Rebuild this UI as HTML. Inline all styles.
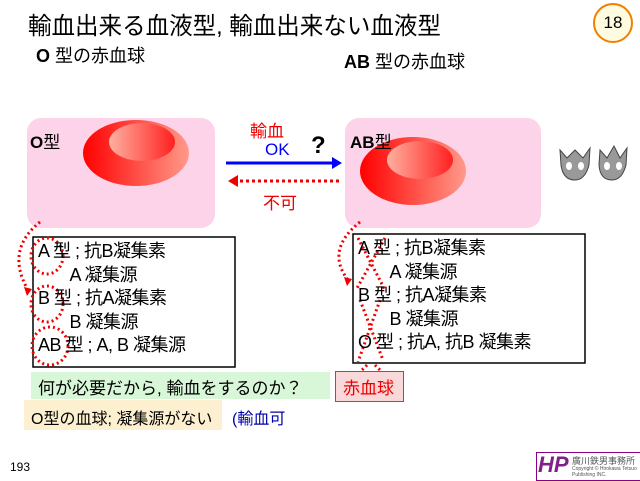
<!DOCTYPE html>
<html><head><meta charset="utf-8"><style>
body{margin:0;width:640px;height:480px;background:#fff;position:relative;overflow:hidden;font-family:"Liberation Sans","Noto Sans CJK JP",sans-serif;}
.a{position:absolute;white-space:nowrap;}
</style></head><body>
<div class="a" style="left:28px;top:6px;font-size:24px;color:#000;transform:scaleX(0.98);transform-origin:left">輸血出来る血液型, 輸血出来ない血液型</div>
<div class="a" style="left:593px;top:3px;width:36px;height:36px;border:2px solid #f08000;border-radius:50%;background:#fffbe0;text-align:center;line-height:36px;font-size:17px">18</div>
<div class="a" style="left:36px;top:42px;font-size:18px"><b>O</b> 型の赤血球</div>
<div class="a" style="left:344px;top:48px;font-size:18px"><b>AB</b> 型の赤血球</div>
<svg class="a" style="left:0;top:0" width="640" height="480">
<defs>
<linearGradient id="g1" x1="0" x2="1"><stop offset="0" stop-color="#ff0000"/><stop offset="1" stop-color="#ff9a8a"/></linearGradient>
<linearGradient id="g2" x1="0" x2="1"><stop offset="0" stop-color="#ffb0a0"/><stop offset="1" stop-color="#ff2020"/></linearGradient>
</defs>
<rect x="27" y="118" width="188" height="110" rx="14" fill="#fdd3ea"/>
<rect x="345" y="118" width="196" height="110" rx="14" fill="#fdd3ea"/>
<ellipse cx="136" cy="153" rx="53" ry="33" fill="url(#g1)"/>
<ellipse cx="142" cy="142" rx="33" ry="19" fill="url(#g2)"/>
<ellipse cx="413" cy="171" rx="53" ry="34" fill="url(#g1)"/>
<ellipse cx="420" cy="160" rx="33" ry="19" fill="url(#g2)"/>
<line x1="226" y1="163" x2="332" y2="163" stroke="#0000ff" stroke-width="3"/>
<polygon points="332,157 342,163 332,169" fill="#0000ff"/>
<line x1="240" y1="181" x2="340" y2="181" stroke="#e00" stroke-width="3" stroke-dasharray="3,3"/>
<polygon points="238,175 228,181 238,187" fill="#e00"/>
<rect x="33" y="237" width="202" height="130" fill="#fff" stroke="#000" stroke-width="1.5"/>
<rect x="353" y="234" width="232" height="129" fill="#fff" stroke="#000" stroke-width="1.5"/>
<g fill="none" stroke="#e00" stroke-width="3" stroke-dasharray="2,3">
<path d="M40,222 Q5,250 28,290"/>
<path d="M360,222 Q325,250 348,280"/>
<ellipse cx="47" cy="256" rx="16" ry="18"/>
<ellipse cx="47" cy="304" rx="16" ry="18"/>
<ellipse cx="50" cy="346" rx="18" ry="19"/>
<path d="M358,238 L385,290 M385,238 L356,290 M360,300 L383,360 M380,300 L358,362 M367,365 L360,372 M375,365 L382,372"/>
</g>
<polygon points="24,287 32,289 27,296" fill="#e00"/>
<polygon points="344,277 352,279 347,286" fill="#e00"/>
<g fill="#999" stroke="#444" stroke-width="1">
<path d="M560,150 L567,158 L575,150 L583,158 L590,148 L589,165 Q585,180 575,180 Q563,180 561,165Z"/>
<path d="M600,150 L607,158 L614,146 L620,158 L627,148 L626,165 Q622,180 612,180 Q600,180 599,165Z"/>
</g>
<g fill="#fff"><ellipse cx="569" cy="166" rx="3" ry="4"/><ellipse cx="581" cy="166" rx="3" ry="4"/><ellipse cx="607" cy="166" rx="3" ry="4"/><ellipse cx="619" cy="166" rx="3" ry="4"/></g>
</svg>
<div class="a" style="left:30px;top:128px;font-size:17px"><b>O</b>型</div>
<div class="a" style="left:350px;top:128px;font-size:17px"><b>AB</b>型</div>
<div class="a" style="left:250px;top:117px;font-size:17px;color:#e00">輸血</div>
<div class="a" style="left:265px;top:140px;font-size:17px;color:#0000ff">OK</div>
<div class="a" style="left:311px;top:132px;font-size:24px;font-weight:bold">?</div>
<div class="a" style="left:263px;top:189px;font-size:17px;color:#e00">不可</div>
<div class="a" style="left:38px;top:240px;font-size:18px;line-height:23.5px;letter-spacing:-0.5px">A 型 ; 抗B凝集素<br>&nbsp;&nbsp;&nbsp;&nbsp;&nbsp;&nbsp;&nbsp;A 凝集源<br>B 型 ; 抗A凝集素<br>&nbsp;&nbsp;&nbsp;&nbsp;&nbsp;&nbsp;&nbsp;B 凝集源<br>AB 型 ; A, B 凝集源</div>
<div class="a" style="left:358px;top:237px;font-size:18px;line-height:23.5px;letter-spacing:-0.5px">A 型 ; 抗B凝集素<br>&nbsp;&nbsp;&nbsp;&nbsp;&nbsp;&nbsp;&nbsp;A 凝集源<br>B 型 ; 抗A凝集素<br>&nbsp;&nbsp;&nbsp;&nbsp;&nbsp;&nbsp;&nbsp;B 凝集源<br>O 型 ; 抗A, 抗B 凝集素</div>
<div class="a" style="left:31px;top:372px;width:299px;height:27px;background:#d8f6d8"></div>
<div class="a" style="left:38px;top:374px;font-size:17px">何が必要だから, 輸血をするのか？</div>
<div class="a" style="left:335px;top:371px;width:67px;height:29px;background:#f8d8d8;border:1px solid #e03030"></div>
<div class="a" style="left:343px;top:374px;font-size:17px;color:#e00">赤血球</div>
<div class="a" style="left:24px;top:400px;width:198px;height:30px;background:#fdf0d0"></div>
<div class="a" style="left:31px;top:405px;font-size:16px">O型の血球; 凝集源がない</div>
<div class="a" style="left:232px;top:405px;font-size:16px;color:#00a">(輸血可</div>
<div class="a" style="left:10px;top:460px;font-size:12px">193</div>
<div class="a" style="left:536px;top:452px;width:103px;height:27px;border:1px solid #808;background:#fff"></div>
<div class="a" style="left:538px;top:452px;font-size:22px;font-weight:bold;font-style:italic;color:#80208a">HP</div>
<div class="a" style="left:572px;top:454px;font-size:9px;color:#555">廣川鉄男事務所</div>
<div class="a" style="left:572px;top:466px;font-size:5px;color:#555">Copyright © Hirokawa Tetsuo<br>Publishing INC.</div>
</body></html>
